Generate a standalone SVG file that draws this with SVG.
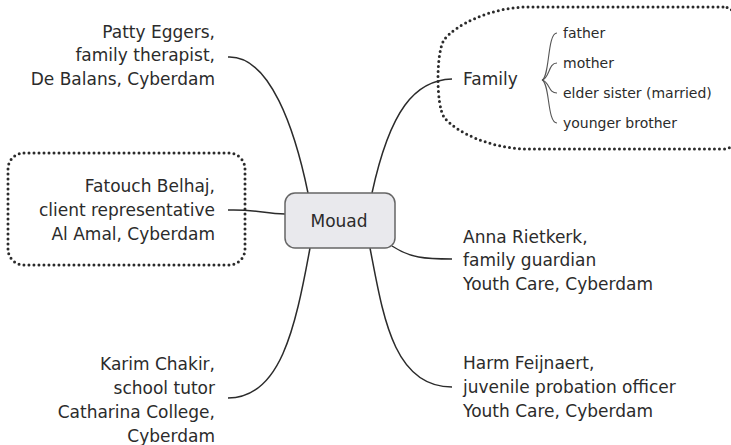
<svg xmlns="http://www.w3.org/2000/svg" width="731" height="445" viewBox="0 0 731 445">
  <style>
    text { font-family: "DejaVu Sans", Verdana, sans-serif; fill: #2b2b2b; }
    .lbl { font-size: 17px; }
    .sub { font-size: 14px; }
    .r { text-anchor: end; }
    .link { fill: none; stroke: #2b2b2b; stroke-width: 1.5; }
    .twig { fill: none; stroke: #555; stroke-width: 1.1; }
    .dots { fill: none; stroke: #2b2b2b; stroke-width: 3; stroke-dasharray: 0 5; stroke-linecap: round; }
  </style>

  <!-- dotted boundaries -->
  <g id="boundaries">
    <path class="dots" d="M723,7 L525,7 C490,8 455,25 444,40 C436,52 436,105 444,117 C455,132 490,148 525,149 L723,149 Q734,149 734,138 L734,18 Q734,7 723,7"/>
    <rect class="dots" x="8" y="153" width="237" height="112" rx="16"/>
  </g>

  <!-- connectors -->
  <g id="connectors">
    <path class="link" d="M228,57 C270,55 295,130 308,193"/>
    <path class="link" d="M372,193 C390,110 415,80 452,79"/>
    <path class="link" d="M228,210 C255,209 265,214 285,214"/>
    <path class="link" d="M392,246 C410,258 425,259 452,259"/>
    <path class="link" d="M370,248 C383,315 393,387 452,387"/>
    <path class="link" d="M310,248 C295,330 280,398 228,398"/>
    <path class="twig" d="M542,80 C550,77 547,33 557,33"/>
    <path class="twig" d="M542,80 C550,78 548,63 557,63"/>
    <path class="twig" d="M542,80 C550,82 548,93 557,93"/>
    <path class="twig" d="M542,80 C550,83 547,123 557,123"/>
  </g>

  <g id="mouad">
    <rect x="285" y="193" width="110" height="55" rx="10" fill="#e9e9ed" stroke="#666" stroke-width="1.5"/>
    <text class="lbl" x="339" y="227" text-anchor="middle">Mouad</text>
  </g>

  <g id="patty">
    <text class="lbl r" x="215" y="38">Patty Eggers,</text>
    <text class="lbl r" x="215" y="61">family therapist,</text>
    <text class="lbl r" x="215" y="85">De Balans, Cyberdam</text>
  </g>

  <g id="family">
    <text class="lbl" x="463" y="85">Family</text>
    <text class="sub" x="563" y="38">father</text>
    <text class="sub" x="563" y="68">mother</text>
    <text class="sub" x="563" y="98">elder sister (married)</text>
    <text class="sub" x="563" y="128">younger brother</text>
  </g>

  <g id="fatouch">
    <text class="lbl r" x="215" y="192">Fatouch Belhaj,</text>
    <text class="lbl r" x="215" y="216">client representative</text>
    <text class="lbl r" x="215" y="240">Al Amal, Cyberdam</text>
  </g>

  <g id="anna">
    <text class="lbl" x="463" y="243">Anna Rietkerk,</text>
    <text class="lbl" x="463" y="266">family guardian</text>
    <text class="lbl" x="463" y="290">Youth Care, Cyberdam</text>
  </g>

  <g id="harm">
    <text class="lbl" x="463" y="369">Harm Feijnaert,</text>
    <text class="lbl" x="463" y="393">juvenile probation officer</text>
    <text class="lbl" x="463" y="417">Youth Care, Cyberdam</text>
  </g>

  <g id="karim">
    <text class="lbl r" x="215" y="370">Karim Chakir,</text>
    <text class="lbl r" x="215" y="394">school tutor</text>
    <text class="lbl r" x="215" y="418">Catharina College,</text>
    <text class="lbl r" x="215" y="442">Cyberdam</text>
  </g>
</svg>
